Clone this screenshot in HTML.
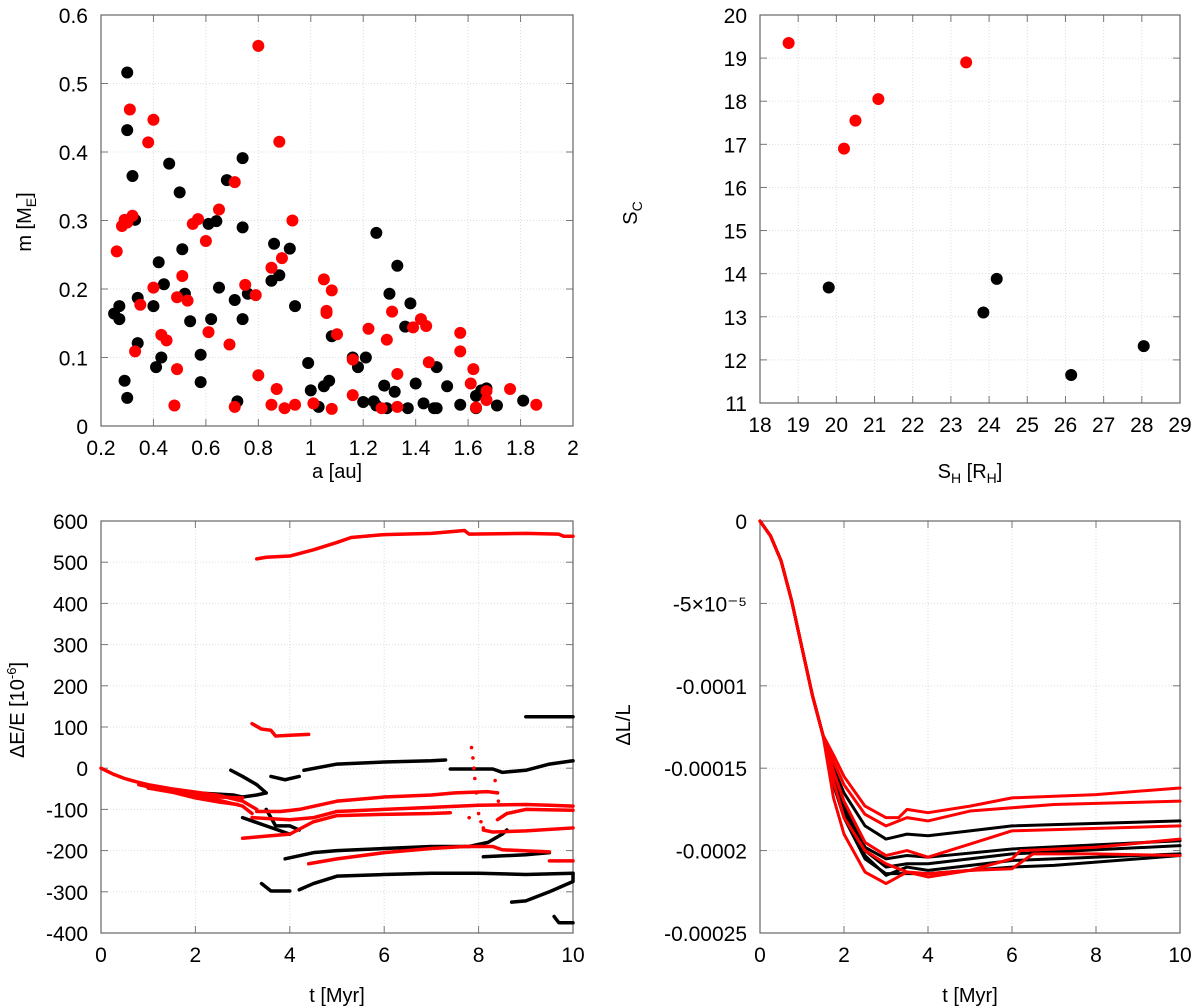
<!DOCTYPE html>
<html><head><meta charset="utf-8"><style>
html,body{margin:0;padding:0;background:#fff;}
svg{display:block;font-family:"Liberation Sans",sans-serif;}
</style></head><body>
<svg id="fig" width="1200" height="1008" viewBox="0 0 1200 1008" xmlns="http://www.w3.org/2000/svg"></svg>
<script>
// ---------- Panel A data: a [au] vs m [ME] ----------
const aBlack=[0.25,0.27,0.27,0.30,0.30,0.29,0.30,0.32,0.33,0.34,0.34,0.40,0.42,0.41,0.43,0.44,0.46,0.50,0.51,0.52,0.54,0.58,0.58,0.61,0.64,0.62,0.65,0.68,0.71,0.72,0.74,0.74,0.74,0.76,0.85,0.86,0.88,0.92,0.94,0.99,1.00,1.03,1.05,1.07,1.08,1.16,1.18,1.20,1.21,1.25,1.24,1.25,1.28,1.29,1.30,1.32,1.33,1.36,1.38,1.37,1.40,1.43,1.47,1.48,1.48,1.52,1.57,1.63,1.65,1.67,1.63,1.71,1.81];
const mBlack=[0.164,0.175,0.156,0.432,0.516,0.066,0.041,0.365,0.301,0.187,0.121,0.175,0.239,0.086,0.100,0.207,0.383,0.341,0.258,0.193,0.153,0.104,0.064,0.295,0.299,0.156,0.202,0.359,0.184,0.036,0.290,0.391,0.156,0.193,0.212,0.266,0.220,0.259,0.175,0.092,0.052,0.028,0.058,0.066,0.131,0.100,0.086,0.035,0.100,0.282,0.036,0.030,0.059,0.026,0.193,0.050,0.234,0.145,0.179,0.026,0.062,0.033,0.026,0.086,0.026,0.058,0.031,0.044,0.052,0.055,0.026,0.030,0.037];
const aRed=[0.26,0.28,0.29,0.30,0.31,0.32,0.33,0.35,0.38,0.40,0.40,0.43,0.45,0.48,0.49,0.49,0.51,0.53,0.55,0.57,0.60,0.61,0.65,0.69,0.71,0.71,0.75,0.79,0.80,0.80,0.85,0.85,0.87,0.88,0.89,0.90,0.93,0.94,1.01,1.05,1.06,1.06,1.08,1.08,1.10,1.16,1.16,1.22,1.27,1.29,1.31,1.33,1.33,1.39,1.42,1.44,1.45,1.57,1.57,1.62,1.61,1.63,1.67,1.67,1.76,1.86];
const mRed=[0.255,0.292,0.301,0.297,0.462,0.307,0.109,0.177,0.414,0.447,0.202,0.133,0.125,0.030,0.083,0.188,0.219,0.183,0.295,0.302,0.270,0.137,0.316,0.119,0.028,0.356,0.206,0.191,0.555,0.074,0.231,0.031,0.054,0.415,0.245,0.026,0.300,0.031,0.033,0.214,0.168,0.165,0.198,0.025,0.134,0.097,0.045,0.142,0.026,0.126,0.167,0.028,0.076,0.144,0.156,0.146,0.093,0.136,0.109,0.083,0.062,0.027,0.038,0.051,0.054,0.031];
const aTicks=[0.2,0.4,0.6,0.8,1,1.2,1.4,1.6,1.8,2];
const mTicks=[0,0.1,0.2,0.3,0.4,0.5,0.6];

// ---------- Panel B data: SH vs SC ----------
const shRed=[18.75,20.2,20.5,21.1,23.4];
const scRed=[19.35,16.9,17.55,18.05,18.9];
const shBlack=[19.8,23.85,24.2,26.15,28.05];
const scBlack=[13.68,13.1,13.88,11.65,12.32];
const shTicks=[18,19,20,21,22,23,24,25,26,27,28,29];
const scTicks=[11,12,13,14,15,16,17,18,19,20];

// ---------- Panel C data: t vs dE/E (segments of [t, value]) ----------
const energyRed=[
 [[0,0],[0.25,-14],[0.5,-25],[0.75,-33],[1,-40],[1.5,-50],[2,-58],[2.5,-66],[3,-80],[3.3,-100]],
 [[0.8,-40],[1.2,-50],[1.6,-60],[2,-68],[2.5,-78],[3,-92],[3.2,-110]],
 [[1,-48],[1.5,-58],[2,-72],[2.5,-82],[2.9,-88]],
 [[1.2,-45],[1.6,-55],[2,-63],[2.5,-70],[3,-72]],
 [[3.3,508],[3.5,512],[4,515],[4.5,530],[5,548],[5.3,560],[6,567],[7,570],[7.7,577],[7.8,568],[9,570],[9.7,568],[9.8,563],[10,563]],
 [[3.2,108],[3.4,95],[3.6,92],[3.7,78],[4,80],[4.4,82]],
 [[3.3,-105],[3.8,-105],[4.2,-100],[5,-80],[6,-70],[7,-65],[7.5,-60],[8.2,-57],[8.4,-60]],
 [[3.2,-120],[4,-125],[4.5,-120],[5,-105],[6,-100],[7,-95],[8,-90],[9,-88],[9.5,-90],[10,-92]],
 [[3,-170],[3.5,-165],[4,-160],[4.5,-130],[5,-115],[6,-112],[7,-110],[7.4,-108]],
 [[4.4,-232],[5,-220],[6,-205],[7,-195],[7.7,-190],[8.3,-190],[8.5,-198],[9.5,-203]],
 [[8.1,-150],[8.3,-155],[9,-152],[10,-145]],
 [[8.4,-125],[8.6,-110],[9,-100],[10,-102]],
 [[9.5,-225],[10,-225]]
];
const energyRedDots=[[7.85,50],[7.88,25],[7.9,0],[7.92,-25],[7.95,-60],[7.98,-90],[8.0,-110],[8.05,-130],[8.1,-145],[7.8,-120],[8.35,-30],[8.4,-60],[8.42,-80]];
const energyBlack=[
 [[1,-48],[2,-60],[2.8,-65],[3,-70],[3.3,-65],[3.5,-60]],
 [[4.3,-5],[5,10],[6,15],[7,18],[7.3,20]],
 [[7.4,-2],[8.3,-2],[8.5,-10],[9,-5],[9.5,10],[10,18]],
 [[9,125],[10,125]],
 [[3.9,-220],[4.5,-205],[5,-200],[6,-195],[7,-190],[7.8,-190],[8.2,-180],[8.5,-160],[8.6,-150]],
 [[8.1,-215],[9,-210],[9.5,-205]],
 [[4.2,-295],[4.5,-280],[5,-262],[6,-258],[7,-255],[8,-255],[9,-258],[10,-255]],
 [[8.7,-325],[9,-322],[9.5,-300],[10,-275],[10,-255]],
 [[3.4,-280],[3.6,-298],[4,-298]],
 [[2.75,-5],[3,-20],[3.3,-40],[3.5,-60]],
 [[3.5,-100],[3.7,-140],[4,-140],[4.2,-150]],
 [[3.6,-20],[3.9,-28],[4.2,-20]],
 [[3,-120],[3.5,-140],[4,-160]],
 [[9.6,-360],[9.7,-375],[10,-375]]
];
const eTTicks=[0,2,4,6,8,10];
const eTicks=[-400,-300,-200,-100,0,100,200,300,400,500,600];

// ---------- Panel D data: t vs dL/L (units 1e-5) ----------
const lDescent=[[0,0],[0.25,-0.9],[0.5,-2.4],[0.75,-4.8],[1,-7.7],[1.25,-10.6],[1.5,-13]];
const momentumRed=[
 [[1.75,-14.2],[2,-15.5],[2.5,-17.3],[3,-18],[3.3,-18],[3.5,-17.5],[4,-17.7],[5,-17.3],[6,-16.8],[8,-16.6],[10,-16.2]],
 [[1.75,-14.6],[2,-16],[2.5,-17.8],[3,-18.5],[3.5,-18],[4,-18.2],[5,-17.6],[6,-17.4],[7,-17.2],[10,-17]],
 [[1.75,-15.2],[2,-17],[2.5,-19.5],[3,-20.3],[3.5,-20],[4,-20.4],[5,-19.6],[6,-18.8],[10,-18.5]],
 [[1.75,-15.8],[2,-18],[2.5,-20],[3,-20.8],[3.5,-21.3],[4,-21.4],[5,-21.2],[6,-20.5],[6.2,-20],[8,-19.8],[10,-19.3]],
 [[1.75,-16.8],[2,-19],[2.5,-21.3],[3,-22],[3.5,-21.3],[4,-21.6],[5,-21.2],[6,-21.1],[6.5,-20.2],[8,-20.2],[10,-20.3]]
];
const momentumBlack=[
 [[1.75,-15],[2,-16.5],[2.5,-18.5],[3,-19.3],[3.5,-19],[4,-19.1],[5,-18.8],[6,-18.5],[10,-18.2]],
 [[1.75,-15.4],[2,-17.2],[2.5,-19.8],[3,-20.5],[3.5,-20.3],[4,-20.4],[6,-19.9],[10,-19.4]],
 [[1.75,-15.6],[2,-17.5],[2.5,-20],[3,-21],[3.5,-20.8],[4,-20.8],[6,-20.2],[10,-19.7]],
 [[1.75,-15.8],[2,-17.8],[2.5,-20.3],[3,-21.5],[3.5,-21],[4,-21.2],[6,-20.6],[10,-20.2]],
 [[1.75,-16],[2,-18],[2.5,-20.5],[3,-21.4],[3.5,-21.4],[4,-21.4],[6,-21],[7,-20.9],[10,-20.3]]
];
const lTTicks=[0,2,4,6,8,10];
const lTicks=[0,-5,-10,-15,-20,-25];
const lTickLabels=["0","-5×10\u207B\u2075","-0.0001","-0.00015","-0.0002","-0.00025"];

const NS="http://www.w3.org/2000/svg";
const svg=document.getElementById('fig');
function mk(tag,attrs,parent){const e=document.createElementNS(NS,tag);for(const k in attrs)e.setAttribute(k,attrs[k]);(parent||svg).appendChild(e);return e;}

function panel(name,x0,x1,y0,y1,xmin,xmax,ymin,ymax,xt,yt,ytl){
  const g=mk('g',{});
  
  
  const sx=v=>x0+(v-xmin)/(xmax-xmin)*(x1-x0);
  const sy=v=>y1-(v-ymin)/(ymax-ymin)*(y1-y0);
  xt.forEach(v=>{
    const X=sx(v);
    if(v!==xmin&&v!==xmax){const gl=mk('line',{x1:X,x2:X,y1:y0,y2:y1,stroke:'#ddd','stroke-width':1,'stroke-dasharray':'1,2'},g);
    
    }
    mk('line',{x1:X,x2:X,y1:y1,y2:y1-7,stroke:'#777'},g);
    mk('line',{x1:X,x2:X,y1:y0,y2:y0+7,stroke:'#777'},g);
    const t=mk('text',{x:X,y:y1+29,'text-anchor':'middle','font-size':21,fill:'#000'},g);
    t.textContent=String(v);
    
    
  });
  yt.forEach((v,i)=>{
    const Y=sy(v);
    if(v!==ymin&&v!==ymax){const gl=mk('line',{x1:x0,x2:x1,y1:Y,y2:Y,stroke:'#ddd','stroke-width':1,'stroke-dasharray':'1,2'},g);
    
    }
    mk('line',{x1:x0,x2:x0+7,y1:Y,y2:Y,stroke:'#777'},g);
    mk('line',{x1:x1,x2:x1-7,y1:Y,y2:Y,stroke:'#777'},g);
    const t=mk('text',{x:x0-13,y:Y+8,'text-anchor':'end','font-size':21,fill:'#000'},g);
    t.textContent=ytl?ytl[i]:String(v);
    
    
  });
  const fr=mk('rect',{x:x0,y:y0,width:x1-x0,height:y1-y0,fill:'none',stroke:'#666','stroke-width':1.2},g);
  
  
  return {g,sx,sy};
}
function dots(p,xs,ys,col,r,name){
  xs.forEach((x,i)=>{const c=mk('circle',{cx:p.sx(x),cy:p.sy(ys[i]),r:r,fill:col},p.g);
  
  });
}
function lines(p,segs,col,w,name){
  segs.forEach(s=>{const pl=mk('polyline',{points:s.map(q=>p.sx(q[0])+','+p.sy(q[1])).join(' '),fill:'none',stroke:col,'stroke-width':w,'stroke-linejoin':'round','stroke-linecap':'round'},p.g);
  
  });
}
function label(x,y,html,rot,name){
  const t=mk('text',{x:x,y:y,'text-anchor':'middle','font-size':20,fill:'#000',transform:rot?`rotate(-90 ${x} ${y})`:''});
  t.innerHTML=html;
  
  
}

// Panel A
const pA=panel('mass-vs-a-panel',101,573,15,426,0.2,2,0,0.6,aTicks,mTicks);
dots(pA,aBlack,mBlack,'#000',6,'black-point');
dots(pA,aRed,mRed,'#f00',6,'red-point');
label(337,478,'a [au]',false,'x-axis-title');
label(31,222,'m [M<tspan font-size="14" dy="5">E</tspan><tspan dy="-5">]</tspan>',true,'y-axis-title');

// Panel B
const pB=panel('sc-vs-sh-panel',760,1180,15,403,18,29,11,20,shTicks,scTicks);
dots(pB,shRed,scRed,'#f00',6,'red-point');
dots(pB,shBlack,scBlack,'#000',6,'black-point');
label(970,478,'S<tspan font-size="14" dy="5">H</tspan><tspan dy="-5"> [R</tspan><tspan font-size="14" dy="5">H</tspan><tspan dy="-5">]</tspan>',false,'x-axis-title');
label(637,213,'S<tspan font-size="14" dy="5">C</tspan>',true,'y-axis-title');

// Panel C
const pC=panel('energy-error-panel',101,573,521,933,0,10,-400,600,eTTicks,eTicks);
lines(pC,energyBlack,'#000',3.5,'black-energy-track');
lines(pC,energyRed,'#f00',3.5,'red-energy-track');
dots(pC,energyRedDots.map(d=>d[0]),energyRedDots.map(d=>d[1]),'#f00',1.8,'red-energy-dot');
label(337,1002,'t [Myr]',false,'x-axis-title');
label(24,710,'ΔE/E [10<tspan font-size="13" dy="-8">-6</tspan><tspan dy="8">]</tspan>',true,'y-axis-title');

// Panel D
const pD=panel('momentum-error-panel',760,1180,521,933,0,10,-25,0,lTTicks,lTicks,lTickLabels);
momentumBlack.forEach(s=>lines(pD,[lDescent.concat(s)],'#000',3,'black-momentum-line'));
momentumRed.forEach(s=>lines(pD,[lDescent.concat(s)],'#f00',3,'red-momentum-line'));
label(970,1002,'t [Myr]',false,'x-axis-title');
label(630,725,'ΔL/L',true,'y-axis-title');
</script>
</body></html>
